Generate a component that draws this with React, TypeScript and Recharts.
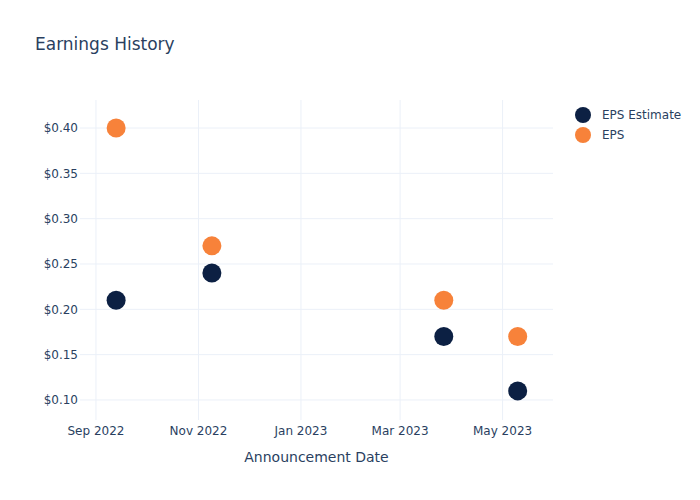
import { Legend, ReferenceLine, Scatter, ScatterChart, XAxis, YAxis } from "recharts";

const announceDates = ["2022-09-13", "2022-11-09", "2023-03-27", "2023-05-10"];
const epsEstimate = [0.21, 0.24, 0.17, 0.11];
const epsActual = [0.4, 0.27, 0.21, 0.17];
const seriesNames = ["EPS Estimate", "EPS"];

const xTickDates = ["2022-09-01", "2022-11-01", "2023-01-01", "2023-03-01", "2023-05-01"];
const yTicks = [0.1, 0.15, 0.2, 0.25, 0.3, 0.35, 0.4];
const monthNames = ["Jan", "Feb", "Mar", "Apr", "May", "Jun", "Jul", "Aug", "Sep", "Oct", "Nov", "Dec"];

const NAVY = "#0c2043";
const ORANGE = "#f7823a";
const TEXT = "#2a3f5f";
const GRID = "#ebf0f8";
const FONT = "'DejaVu Sans', sans-serif";

const ts = (d: string) => Date.parse(d + "T00:00:00Z");

const estimateData = announceDates.map((d, i) => ({ x: ts(d), y: epsEstimate[i] }));
const actualData = announceDates.map((d, i) => ({ x: ts(d), y: epsActual[i] }));

const fmtMonth = (v: number) => {
  const d = new Date(v);
  return `${monthNames[d.getUTCMonth()]} ${d.getUTCFullYear()}`;
};

const dot = (color: string) => (props: any) => (
  <circle cx={props.cx} cy={props.cy} r={9.5} fill={color} />
);

function LegendBox({ payload }: any) {
  const items = [...(payload || [])].sort(
    (a: any, b: any) => seriesNames.indexOf(a.value) - seriesNames.indexOf(b.value)
  );
  return (
    <div style={{ fontFamily: FONT, fontSize: 12, color: TEXT }}>
      {items.map((p: any) => (
        <div key={p.value} style={{ display: "flex", alignItems: "center", height: 20 }}>
          <svg width={18} height={18} style={{ marginRight: 10 }}>
            <circle cx={9} cy={9} r={8} fill={p.color} />
          </svg>
          <span>{p.value}</span>
        </div>
      ))}
    </div>
  );
}

export default function App() {
  return (
    <div style={{ position: "absolute", left: 0, top: 0, width: 700, height: 500, background: "#fff" }}>
      <div
        style={{
          position: "absolute",
          left: 35,
          top: 34,
          fontFamily: FONT,
          fontSize: 17,
          lineHeight: "20px",
          color: TEXT,
        }}
      >
        Earnings History
      </div>
      <ScatterChart width={700} height={500} margin={{ top: 100, right: 147, bottom: 20, left: 0 }}>
        <XAxis
          type="number"
          dataKey="x"
          domain={[ts("2022-08-22") + 12 * 3600e3, ts("2023-05-31")]}
          ticks={xTickDates.map(ts)}
          tickFormatter={fmtMonth}
          axisLine={false}
          tickLine={false}
          tickSize={0}
          tickMargin={6}
          height={60}
          tick={{ fontSize: 12, fill: TEXT, fontFamily: FONT }}
          label={{
            value: "Announcement Date",
            position: "insideBottom",
            offset: 18,
            fontSize: 14,
            fill: TEXT,
            fontFamily: FONT,
          }}
        />
        <YAxis
          type="number"
          dataKey="y"
          domain={[0.0779, 0.4309]}
          ticks={yTicks}
          tickFormatter={(v) => `$${Number(v).toFixed(2)}`}
          axisLine={false}
          tickLine={false}
          tickSize={0}
          tickMargin={2}
          width={80}
          tick={{ fontSize: 12, fill: TEXT, fontFamily: FONT }}
        />
        {yTicks.map((t) => (
          <ReferenceLine key={`y${t}`} y={t} stroke={GRID} strokeWidth={1} />
        ))}
        {xTickDates.map((d) => (
          <ReferenceLine key={`x${d}`} x={ts(d)} stroke={GRID} strokeWidth={1} />
        ))}
        <Legend
          layout="horizontal"
          verticalAlign="middle"
          align="center"
          content={<LegendBox />}
          wrapperStyle={{ position: "absolute", left: 574, top: 105, width: 126 }}
        />
        <Scatter
          name="EPS Estimate"
          data={estimateData}
          fill={NAVY}
          shape={dot(NAVY)}
          isAnimationActive={false}
        />
        <Scatter name="EPS" data={actualData} fill={ORANGE} shape={dot(ORANGE)} isAnimationActive={false} />
      </ScatterChart>
    </div>
  );
}
